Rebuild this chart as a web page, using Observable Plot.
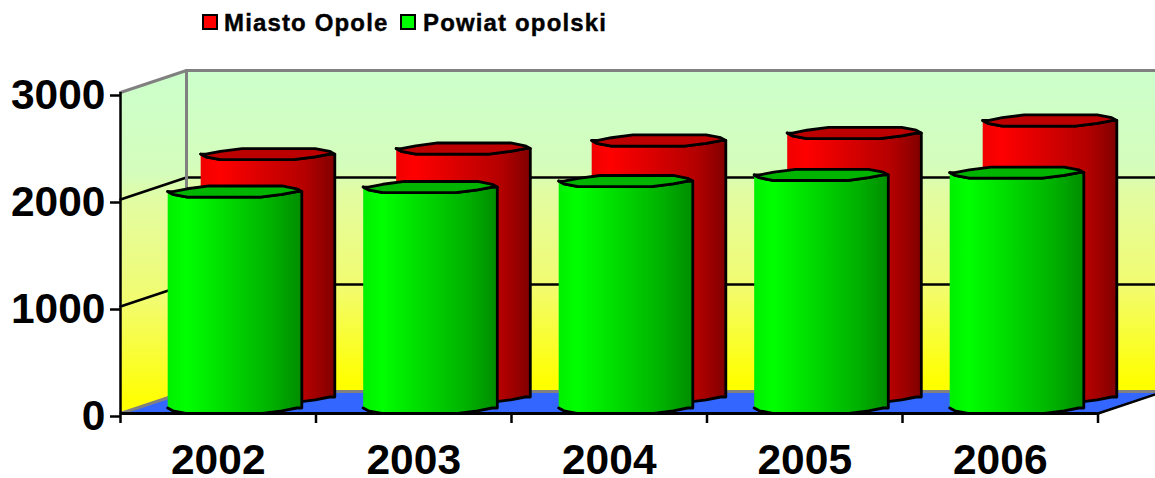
<!DOCTYPE html>
<html>
<head>
<meta charset="utf-8">
<script src="https://cdn.jsdelivr.net/npm/d3@7"></script>
<script src="https://cdn.jsdelivr.net/npm/@observablehq/plot@0.6"></script>
<style>
html,body{margin:0;padding:0;background:#fff;overflow:hidden}
#legend{position:relative;height:45px;width:1155px;font-family:"Liberation Sans",Arial,sans-serif;font-weight:700;font-size:24px;letter-spacing:1.15px;color:#000;-webkit-text-stroke:0.4px #000}
#legend i{position:absolute;top:14px;width:12px;height:12px;border:2px solid #000}
#legend span{position:absolute;top:9px;line-height:28px;white-space:pre}
svg text{-webkit-text-stroke:0.7px #000}
</style>
</head>
<body>
<div id="legend"></div>
<div id="chart"></div>
<script>
const years = ["2002", "2003", "2004", "2005", "2006"];
const miastoOpole = [2270, 2322, 2397, 2467, 2584];
const powiatOpolski = [2023, 2065, 2121, 2178, 2200];
const seriesNames = ["Miasto Opole", "Powiat opolski"];
const yTicks = [0, 1000, 2000, 3000];

// Oblique depth of the 3D frame, expressed in data units of the two scales
const DX = 66 / 195.5, DY = 22 / 0.107;
const BAND_HALF = 0.343, RY = 52, SKEW = 10, STEPS = 16, QUANT = 26;
const XEND = years.length;
const fp = (x, y, z, id) => ({x: x + z * DX, y: y + z * DY, id});

const leftWall = [fp(0,0,0),fp(0,0,1),fp(0,3000,1),fp(0,3000,0)];
const backWall = [fp(0,0,1),fp(XEND,0,1),fp(XEND,3000,1),fp(0,3000,1)];
const floor = [fp(0,0,0),fp(XEND,0,0),fp(XEND,0,1),fp(0,0,1)];
const gridBlack = [1000, 2000].flatMap(t => [fp(0,t,0,t),fp(0,t,1,t),fp(XEND,t,1,t)]);
const frameGrey = [
  fp(0,3000,0,"top"),fp(0,3000,1,"top"),fp(XEND,3000,1,"top"),
  fp(0,0,0,"base"),fp(0,0,1,"base"),fp(XEND,0,1,"base"),
  fp(0,0,1,"col"),fp(0,3000,1,"col")
];
const floorEdge = [fp(XEND,0,0),fp(XEND,0,1)];

// The reference's cylinder rims are coarse, stepped outlines rather than true ellipses
function arc(i, value, z, from, to, id) {
  const cx = i + 0.5 + z * DX, base = z * DY;
  return d3.range(STEPS / 2 + 1).map(k => {
    const t = from + (to - from) * k / (STEPS / 2);
    const off = Math.round((RY * Math.sin(t) + SKEW * Math.cos(t)) / QUANT) * QUANT;
    return {x: cx + BAND_HALF * Math.cos(t), y: base + value + off, id};
  });
}
const body = (vals, z) => vals.flatMap((v, i) => [
  ...arc(i, v, z, Math.PI, 2 * Math.PI, i),
  ...arc(i, 0, z, 2 * Math.PI, Math.PI, i)
]);
const cap = (vals, z) => vals.flatMap((v, i) => [
  ...arc(i, v, z, Math.PI, 2 * Math.PI, i),
  ...arc(i, v, z, 0, Math.PI, i)
]);

function gradients() {
  const defs = d3.create("svg:defs");
  const add = (id, stops, vertical) => {
    const g = defs.append("linearGradient").attr("id", id)
      .attr("x1", 0).attr("y1", 0).attr("x2", vertical ? 0 : 1).attr("y2", vertical ? 1 : 0);
    stops.forEach(([o, c]) => g.append("stop").attr("offset", o).attr("stop-color", c));
  };
  const wallStops = [[0, "#ccffcc"], [0.3, "#d4fdbc"], [0.38, "#e2fca2"], [0.67, "#f2fc70"], [0.97, "#ffff00"], [1, "#ffff00"]];
  add("wall", wallStops, true);
  add("wallSide", wallStops, true);
  add("redBody", [[0, "#f00000"], [0.14, "#ff0000"], [0.78, "#b40000"], [1, "#800000"]]);
  add("greenBody", [[0, "#00f000"], [0.14, "#00ff00"], [0.78, "#00b000"], [1, "#008c00"]]);
  return defs.node();
}

const chart = Plot.plot({
  width: 1155,
  height: 433,
  marginLeft: 120,
  marginRight: 57.5,
  marginTop: 47,
  marginBottom: 65,
  style: {fontFamily: '"Liberation Sans", Arial, sans-serif', background: "#fff", color: "#000"},
  x: {domain: [0, XEND], range: [120, 1097.5], axis: null},
  y: {domain: [0, 3000], range: [368, 47], axis: null},
  marks: [
    gradients,
    Plot.line(leftWall, {x: "x", y: "y", fill: "url(#wallSide)", stroke: "none"}),
    Plot.line(backWall, {x: "x", y: "y", fill: "url(#wall)", stroke: "none"}),
    Plot.line(floor, {x: "x", y: "y", fill: "#3366ff", stroke: "none"}),
    Plot.line(gridBlack, {x: "x", y: "y", z: "id", stroke: "#000", strokeWidth: 2.5}),
    Plot.line(frameGrey, {x: "x", y: "y", z: "id", stroke: "#808080", strokeWidth: 3, strokeLinejoin: "miter"}),
    Plot.line(floorEdge, {x: "x", y: "y", stroke: "#000", strokeWidth: 2.5}),
    Plot.line(body(miastoOpole, 0.75), {x: "x", y: "y", z: "id", fill: "url(#redBody)", stroke: "#000", strokeWidth: 2.8}),
    Plot.line(cap(miastoOpole, 0.75), {x: "x", y: "y", z: "id", fill: "#bc0000", stroke: "#000", strokeWidth: 2.8}),
    Plot.line(body(powiatOpolski, 0.25), {x: "x", y: "y", z: "id", fill: "url(#greenBody)", stroke: "#000", strokeWidth: 2.8}),
    Plot.line(cap(powiatOpolski, 0.25), {x: "x", y: "y", z: "id", fill: "#00b400", stroke: "#000", strokeWidth: 2.8}),
    Plot.ruleX([0], {y1: 0, y2: 3000, stroke: "#000", strokeWidth: 2.5}),
    Plot.ruleY([0], {x1: 0, x2: XEND, stroke: "#000", strokeWidth: 3}),
    Plot.axisY({ticks: yTicks, tickSize: 10, tickPadding: 5, strokeWidth: 2.5, label: null, fontSize: 42.5, fontWeight: 700, dy: 3, tickFormat: d => String(d)}),
    Plot.axisX({ticks: d3.range(years.length + 1), tickSize: 10, strokeWidth: 2.5, label: null, tickFormat: () => ""}),
    Plot.axisX({ticks: years.map((_, i) => i + 0.5), tickSize: 0, tickPadding: 30, label: null, fontSize: 42.5, fontWeight: 700, tickFormat: d => years[d - 0.5]})
  ]
});
document.getElementById("chart").append(chart);

const legend = d3.select("#legend");
[[202, 224, "#ff0000"], [400, 423, "#00ff00"]].forEach(([sx, tx, c], i) => {
  legend.append("i").style("left", sx + "px").style("background", c);
  legend.append("span").style("left", tx + "px").text(seriesNames[i]);
});
</script>
</body>
</html>
